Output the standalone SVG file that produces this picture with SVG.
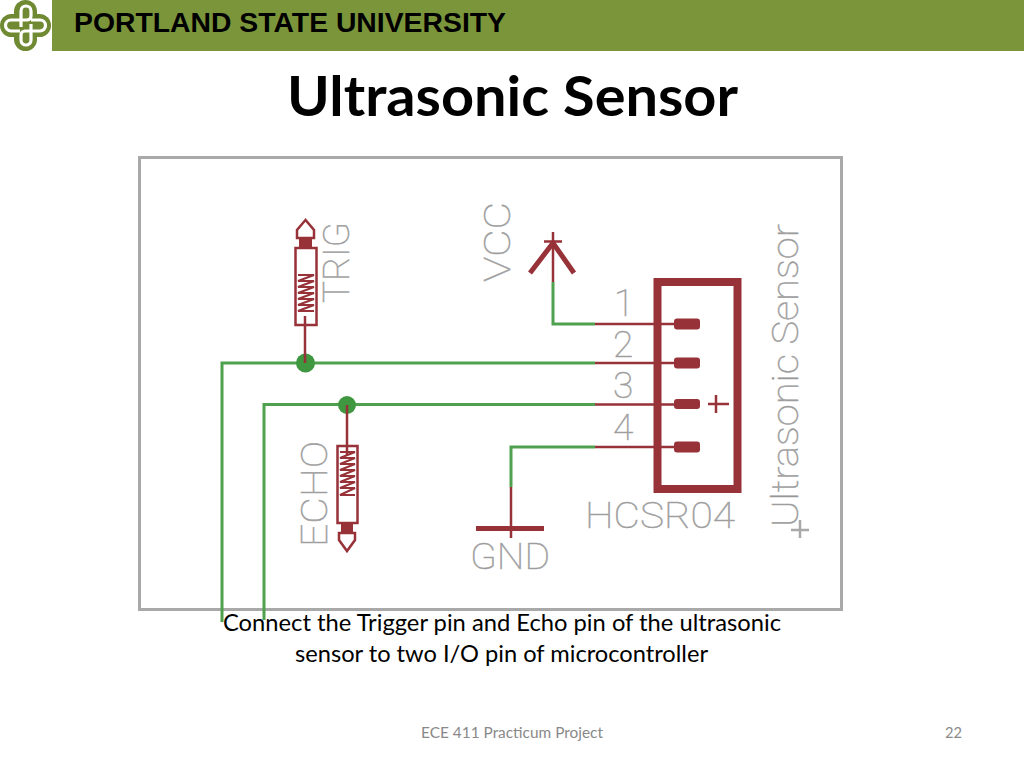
<svg xmlns="http://www.w3.org/2000/svg" width="1024" height="768" viewBox="0 0 1024 768">
<style>
.r{stroke:#963238;fill:none;stroke-width:2.500px}
.z{stroke:#963238;fill:none;stroke-width:2px}
.a{stroke:#963238;fill:none;stroke-width:5px}
.g{stroke:#4fa14f;fill:none;stroke-width:3px}
.pad{fill:#963238}
.s{font-family:"Roboto","Liberation Sans",sans-serif;font-weight:100;fill:#8f8f8f;stroke:#a8a8a8;stroke-width:.5px;font-size:37px}
.c{font-family:"Lato","Liberation Sans",sans-serif;font-size:24px;fill:#000}
.f{font-family:"Lato","Liberation Sans",sans-serif;font-size:14.500px;fill:#898989}
</style>
<rect width="1024" height="768" fill="#fff"/>
<g id="header">
<rect x="52" y="0" width="972" height="51" fill="#7b953b"/>
<text x="74" y="32" font-family="Liberation Sans" font-weight="700" font-size="27" textLength="432" lengthAdjust="spacingAndGlyphs" fill="#000">PORTLAND STATE UNIVERSITY</text>
</g>
<g id="logo">
<rect x="14" y="0" width="23" height="51" rx="11.500" fill="#6f8a32"/>
<rect x="0" y="14" width="51" height="23" rx="11.500" fill="#6f8a32"/>
<path d="M21 27V11A5 5 0 0 1 31 11V16A4 4 0 0 1 27 20H11A5.500 5.500 0 0 0 11 31H20M31 24V40A5 5 0 0 1 21 40V35A4 4 0 0 1 25 31H40A5.500 5.500 0 0 0 40 20H31" fill="none" stroke="#fff" stroke-width="3.200"/>
</g>
<text id="title" x="287" y="116" font-family="Lato,Liberation Sans,sans-serif" font-weight="700" font-size="56" textLength="451" lengthAdjust="spacingAndGlyphs" fill="#000">Ultrasonic Sensor</text>
<rect id="frame" x="139.500" y="157.500" width="702" height="452" fill="#fff" stroke="#a9a9a9" stroke-width="3"/>
<g id="connectors">
<path class="g" d="M222 622V363H595"/>
<path class="g" d="M264 620V404.500H595"/>
<path class="g" d="M553 282V324H595"/>
<path class="g" d="M511 487V447H595"/>
<path class="r" d="M595 324H680M595 363H680M595 404.500H680M595 447H680"/>
<circle cx="305.500" cy="363" r="9.500" fill="#3f983f"/>
<circle cx="347" cy="405" r="9" fill="#3f983f"/>
<path class="r" d="M305 363V316M347 405V455M553 282V232M511 487V538"/>
</g>
<g id="trig">
<rect class="r" x="295.500" y="248" width="21" height="77"/>
<path class="z" d="M298 275H314L298 281H314L298 287H314L298 293H314L298 299H314L298 305H314L298 311H314"/>
<rect class="pad" x="299" y="238" width="13" height="10"/>
<path class="r" d="M305.500 220L297 230V238H314V230Z"/>
<text class="s" transform="translate(349 303) rotate(-90)" textLength="81" lengthAdjust="spacingAndGlyphs">TRIG</text>
</g>
<g id="echo">
<rect class="r" x="337.500" y="446" width="20" height="77"/>
<path class="z" d="M340 452H355L340 458H355L340 464H355L340 470H355L340 476H355L340 482H355L340 488H355L340 495H355"/>
<rect class="pad" x="341" y="523" width="12" height="10"/>
<path class="r" d="M339 533H355V540L347 551L339 540Z"/>
<text class="s" transform="translate(327 547) rotate(-90)" textLength="106" lengthAdjust="spacingAndGlyphs">ECHO</text>
</g>
<g id="vcc">
<path class="a" d="M530 273L553 243L574 273"/>
<path class="r" d="M544 241.500H562"/>
<text class="s" transform="translate(510 282) rotate(-90)" textLength="80" lengthAdjust="spacingAndGlyphs">VCC</text>
</g>
<g id="gnd">
<rect class="pad" x="476" y="526" width="68" height="5"/>
<text class="s" x="470" y="569" textLength="80" lengthAdjust="spacingAndGlyphs">GND</text>
</g>
<g id="sensor">
<rect x="657.500" y="282" width="80" height="207" fill="none" stroke="#963238" stroke-width="8"/>
<rect class="pad" x="674" y="318.500" width="26" height="11" rx="3"/>
<rect class="pad" x="674" y="357.500" width="26" height="11" rx="3"/>
<rect class="pad" x="674" y="399" width="26" height="10" rx="3"/>
<rect class="pad" x="674" y="441.500" width="26" height="11" rx="3"/>
<path class="r" d="M708 404H729M716 395V413"/>
<text class="s" x="614" y="316">1</text>
<text class="s" x="613" y="357">2</text>
<text class="s" x="613" y="398">3</text>
<text class="s" x="613" y="440">4</text>
<text class="s" x="585" y="528" textLength="150" lengthAdjust="spacingAndGlyphs">HCSR04</text>
<text class="s" transform="translate(798 527) rotate(-90)" textLength="303" lengthAdjust="spacingAndGlyphs">Ultrasonic Sensor</text>
<path d="M791 530H809M800 520V538" stroke="#a8a8a8" stroke-width="2.500" fill="none"/>
</g>
<g id="caption">
<text class="c" x="223" y="631" textLength="558" lengthAdjust="spacingAndGlyphs">Connect the Trigger pin and Echo pin of the ultrasonic</text>
<text class="c" x="295" y="662" textLength="413" lengthAdjust="spacingAndGlyphs">sensor to two I/O pin of microcontroller</text>
</g>
<g id="footer">
<text class="f" x="421" y="738" textLength="182" lengthAdjust="spacingAndGlyphs">ECE 411 Practicum Project</text>
<text class="f" x="945" y="738" textLength="17" lengthAdjust="spacingAndGlyphs">22</text>
</g>
</svg>
